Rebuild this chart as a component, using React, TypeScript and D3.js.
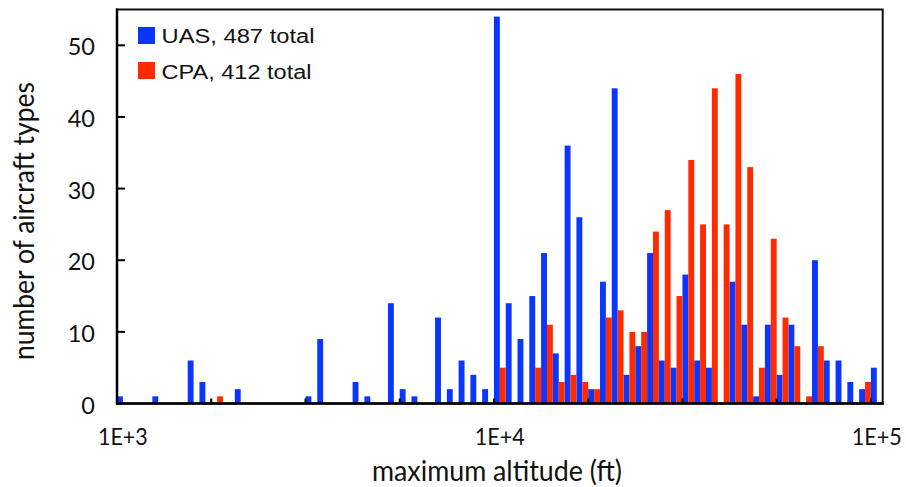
import React from "react";
import * as d3 from "d3";

// 65 log bins from 1E+3 to 1E+5, 32 bins per decade (bin index k -> 10^(3 + k/32))
const binIndex: number[] = d3.range(65);
const xTickLabels = [
  { bin: 0, label: "1E+3" },
  { bin: 32, label: "1E+4" },
  { bin: 64, label: "1E+5" },
];
const yTicks = [0, 10, 20, 30, 40, 50];

const uasCounts = [
  1, 0, 0, 1, 0, 0, 6, 3, 0, 0, 2, 0, 0, 0, 0, 0,
  1, 9, 0, 0, 3, 1, 0, 14, 2, 1, 0, 12, 2, 6, 4, 2,
  54, 14, 9, 15, 21, 7, 36, 26, 2, 17, 44, 4, 8, 21, 6, 5,
  18, 6, 5, 0, 17, 11, 1, 11, 4, 11, 0, 20, 6, 6, 3, 2,
  5,
];
const cpaCounts = [
  0, 0, 0, 0, 0, 0, 0, 0, 1, 0, 0, 0, 0, 0, 0, 0,
  0, 0, 0, 0, 0, 0, 0, 0, 0, 0, 0, 0, 0, 0, 0, 0,
  5, 0, 0, 5, 11, 3, 4, 3, 2, 12, 13, 10, 10, 24, 27, 15,
  34, 25, 44, 25, 46, 33, 5, 23, 12, 8, 1, 8, 0, 0, 0, 3,
  0,
];
const seriesNames = ["UAS, 487 total", "CPA, 412 total"];
const seriesColors = ["#0a36ff", "#ff2a00"];

const W = 906;
const H = 487;
const left = 117;
const right = 882.7;
const top = 9.5;
const bottom = 403.5;

export default function App() {
  const x = d3.scaleBand<number>().domain(binIndex).range([left, right]).padding(0);
  const y = d3.scaleLinear().domain([0, 55]).range([bottom, top]);
  const bw = x.bandwidth();
  const tickFont = "Lato, 'Open Sans', sans-serif";
  const series = [uasCounts, cpaCounts];

  return (
    <svg
      width={W}
      height={H}
      style={{ position: "absolute", left: 0, top: 0, background: "#fff" }}
    >
      {/* bars */}
      {series.map((vals, si) => (
        <g key={si} fill={seriesColors[si]}>
          {binIndex.map((k) =>
            vals[k] > 0 ? (
              <rect
                key={k}
                x={(x(k) as number) + (si * bw) / 2}
                y={y(vals[k])}
                width={bw / 2}
                height={y(0) - y(vals[k])}
              />
            ) : null
          )}
        </g>
      ))}

      {/* frame */}
      <rect
        x={left}
        y={top}
        width={right - left}
        height={bottom - top}
        fill="none"
        stroke="#111"
        strokeWidth={2}
      />
      <line x1={left} x2={left} y1={top - 1} y2={bottom + 1.2} stroke="#000" strokeWidth={2.5} />
      <line x1={left - 1} x2={right + 1} y1={bottom} y2={bottom} stroke="#000" strokeWidth={2.5} />

      {/* y ticks (inside) */}
      {yTicks.map((t) => (
        <g key={t}>
          <line x1={left} x2={left + 8} y1={y(t)} y2={y(t)} stroke="#000" strokeWidth={2} />
          <text
            x={95}
            y={y(t) + 10}
            textAnchor="end"
            fontFamily={tickFont}
            fontSize={23.5}
            fill="#111"
          >
            {t}
          </text>
        </g>
      ))}

      {/* x ticks (inside, every 8 bins) */}
      {binIndex
        .filter((k) => k > 0 && k % 8 === 0)
        .map((k) => (
          <line
            key={k}
            x1={x(k) as number}
            x2={x(k) as number}
            y1={bottom}
            y2={bottom - 5}
            stroke="#000"
            strokeWidth={2}
          />
        ))}
      {xTickLabels.map((t) => (
        <text
          key={t.label}
          x={(x(t.bin) as number) + bw / 2}
          y={444.5}
          textAnchor="middle"
          fontFamily={tickFont}
          fontSize={23.5}
          fill="#111"
          textLength={50}
          lengthAdjust="spacingAndGlyphs"
        >
          {t.label}
        </text>
      ))}

      {/* axis titles */}
      <text
        x={497}
        y={481}
        textAnchor="middle"
        fontFamily={tickFont}
        fontSize={28}
        fill="#111"
        textLength={250}
        lengthAdjust="spacingAndGlyphs"
      >
        maximum altitude (ft)
      </text>
      <text
        transform="translate(34,221) rotate(-90)"
        textAnchor="middle"
        fontFamily={tickFont}
        fontSize={28}
        fill="#111"
        textLength={278}
        lengthAdjust="spacingAndGlyphs"
      >
        number of aircraft types
      </text>

      {/* legend */}
      {seriesNames.map((name, i) => (
        <g key={name}>
          <rect x={138} y={27 + i * 35} width={17} height={17} fill={seriesColors[i]} />
          <text
            x={161.5}
            y={43 + i * 35.5}
            fontFamily="'Liberation Sans', Arial, sans-serif"
            fontSize={19.5}
            fill="#111"
            textLength={i === 0 ? 153 : 150}
            lengthAdjust="spacingAndGlyphs"
          >
            {name}
          </text>
        </g>
      ))}
    </svg>
  );
}
